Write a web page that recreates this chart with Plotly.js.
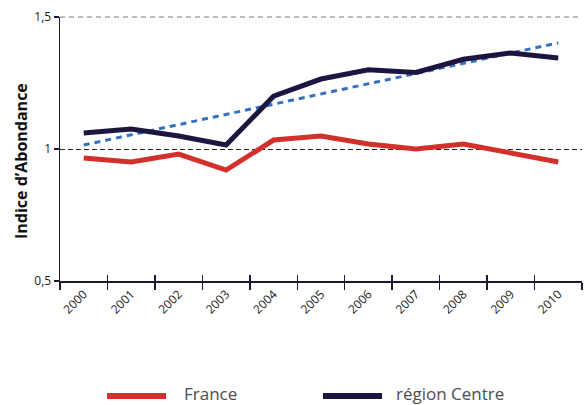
<!DOCTYPE html>
<html><head><meta charset="utf-8">
<script src="https://cdn.plot.ly/plotly-3.0.1.min.js"></script>
<style>html,body{margin:0;padding:0;background:#fff}#c{width:585px;height:405px}</style>
</head><body><div id="c"></div>
<script>
const years = ['2000','2001','2002','2003','2004','2005','2006','2007','2008','2009','2010'];
const france = [0.966,0.951,0.981,0.920,1.034,1.049,1.019,1.000,1.019,0.985,0.951];
const centre = [1.061,1.076,1.049,1.015,1.200,1.265,1.300,1.290,1.340,1.364,1.345];
const trendYears = ['2000','2010'];
const trendValues = [1.015,1.402];
const yTickVals = [0.5,1,1.5];
const yTickText = ['0,5','1','1,5'];
const seriesNames = ['France','région Centre'];
const seriesColors = ['#d3302b','#1d1540'];

const font = '"Open Sans", "Noto Sans", sans-serif';
const axisColor = '#1e1a33';

// plot area in pixels (for paper-coordinate placement of decorations)
const L = 60, R = 582, T = 17, B = 281;
const px = v => (v - L) / (R - L);
const py = v => (B - v) / (B - T);

const traces = [
  {x: trendYears, y: trendValues, type:'scatter', mode:'lines',
   line:{color:'#3570c0', width:3, dash:'6px,5px'}, showlegend:false, hoverinfo:'skip'},
  {x: years, y: france, type:'scatter', mode:'lines', name: seriesNames[0],
   line:{color:seriesColors[0], width:5}, showlegend:false},
  {x: years, y: centre, type:'scatter', mode:'lines', name: seriesNames[1],
   line:{color:seriesColors[1], width:5}, showlegend:false},
  {x: [], y: [], xaxis:'x2', yaxis:'y', type:'scatter', mode:'lines', showlegend:false, hoverinfo:'skip'}
];

const legendItems = [
  {lineX0:107, lineX1:166, textX:183},
  {lineX0:323, lineX1:382, textX:395}
];
const legendY = 393;

const shapes = [
  {type:'line', xref:'paper', yref:'paper', x0:0, x1:1, y0:1, y1:1,
   line:{color:'#777', width:1, dash:'5px,4px'}}
];
const annotations = [
  {text:'<b>Indice d’Abondance</b>', xref:'paper', yref:'paper', x:px(21), y:py(161),
   textangle:-90, showarrow:false, xanchor:'center', yanchor:'middle',
   font:{size:16, color:'#111', family:font}}
];
legendItems.forEach((it, i) => {
  shapes.push({type:'line', xref:'paper', yref:'paper', x0:px(it.lineX0), x1:px(it.lineX1),
    y0:py(legendY + 3), y1:py(legendY + 3), line:{color:seriesColors[i], width:6}});
  annotations.push({text:seriesNames[i], xref:'paper', yref:'paper', x:px(it.textX), y:py(legendY),
    xanchor:'left', yanchor:'middle', showarrow:false, borderpad:0,
    font:{size:17, color:'#4d4d4d', family:font}});
});

const layout = {
  width:585, height:405,
  margin:{l:L, r:585-R, t:T, b:405-B},
  paper_bgcolor:'#fff', plot_bgcolor:'#fff',
  font:{family:font, color:'#222'},
  showlegend:false,
  xaxis:{type:'category', categoryarray: years, range:[-0.5,10.5], tickson:'boundaries',
    ticks:'outside', ticklen:7, tickcolor:axisColor, tickwidth:1.5,
    showline:true, linecolor:axisColor, linewidth:1.5, showgrid:false, zeroline:false,
    tickangle:-45, tickfont:{size:12, color:'#222', family:font}, fixedrange:true},
  xaxis2:{overlaying:'x', anchor:'y', side:'bottom', range:[0,11], tickmode:'linear', tick0:0, dtick:1,
    ticks:'inside', ticklen:6, tickcolor:axisColor, tickwidth:1.5, showticklabels:false,
    showgrid:false, zeroline:false, showline:false},
  yaxis:{range:[0.5,1.5], tickvals:yTickVals, ticktext:yTickText,
    ticks:'outside', ticklen:5, tickcolor:axisColor, tickwidth:1.5,
    showline:true, linecolor:axisColor, linewidth:1.5, zeroline:false,
    showgrid:true, gridcolor:'#222', griddash:'5px,3px', gridwidth:1,
    tickfont:{size:12, color:'#222', family:font}, automargin:false},
  shapes: shapes,
  annotations: annotations
};
Plotly.newPlot('c', traces, layout, {displayModeBar:false, staticPlot:true});
</script></body></html>
